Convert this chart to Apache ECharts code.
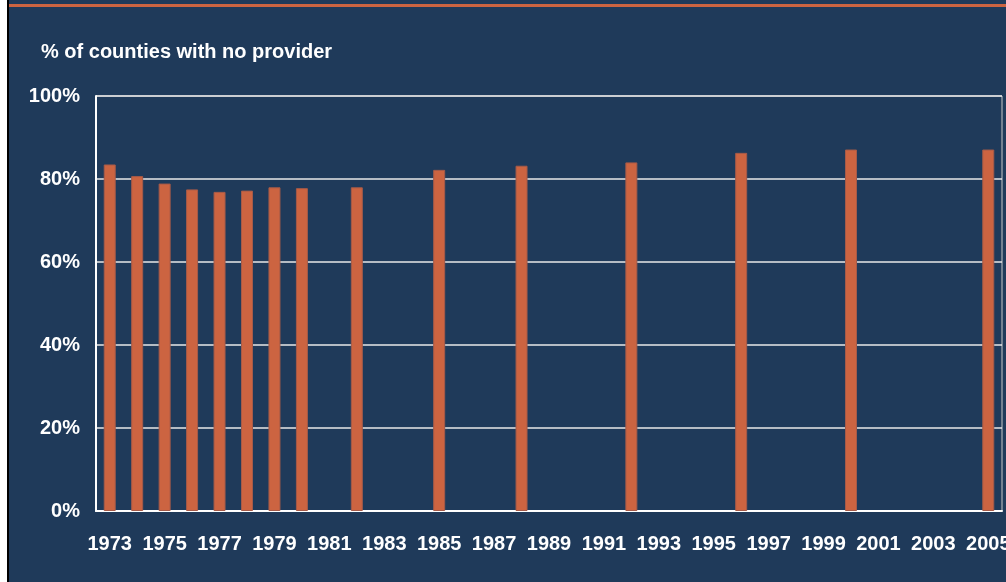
<!DOCTYPE html>
<html>
<head>
<meta charset="utf-8">
<script src="https://cdn.jsdelivr.net/npm/echarts@6/dist/echarts.min.js"></script>
<style>
  html, body { margin: 0; padding: 0; background: #fff; }
  #chart { width: 1006px; height: 582px; }
</style>
</head>
<body>
<div id="chart"></div>
<script>
// years on the x axis, one category per year
const years = ['1973', '1974', '1975', '1976', '1977', '1978', '1979', '1980', '1981', '1982',
  '1983', '1984', '1985', '1986', '1987', '1988', '1989', '1990', '1991', '1992',
  '1993', '1994', '1995', '1996', '1997', '1998', '1999', '2000', '2001', '2002',
  '2003', '2004', '2005'];
// % of counties with no provider (null = no survey that year)
const noProvider = [83.5, 80.7, 78.9, 77.5, 76.9, 77.2, 78.0, 77.8, null, 78.0,
  null, null, 82.2, null, null, 83.2, null, null, null, 84.0,
  null, null, null, 86.3, null, null, null, 87.1, null, null,
  null, null, 87.1];
const yTicks = [0, 20, 40, 60, 80, 100];

const navy = '#1f3a5a';
const orange = '#cc6441';
const font = '"Liberation Sans", Arial, sans-serif';

const chart = echarts.init(document.getElementById('chart'));
chart.setOption({
  backgroundColor: navy,
  animation: false,
  title: {
    text: '% of counties with no provider',
    left: 41,
    top: 42,
    padding: 0,
    textStyle: { color: '#fff', fontSize: 20, fontWeight: 'bold', fontFamily: font }
  },
  graphic: [
    // white page strip and black frame line on the left
    { type: 'rect', left: 0, top: 0, shape: { width: 7, height: 582 }, style: { fill: '#fff' } },
    { type: 'rect', left: 7, top: 0, shape: { width: 2, height: 582 }, style: { fill: '#000' } },
    // orange rule across the top
    { type: 'rect', left: 9, top: 4, shape: { width: 1000, height: 3 }, style: { fill: orange } }
  ],
  grid: {
    left: 96, right: 4, top: 96, bottom: 71,
    outerBoundsMode: 'none',
    containLabel: false,
    show: true, borderColor: '#c8c8c8', borderWidth: 1, backgroundColor: 'transparent'
  },
  xAxis: {
    type: 'category',
    data: years,
    axisLine: { lineStyle: { color: '#fff', width: 2 } },
    axisTick: { show: false },
    axisLabel: {
      interval: 1, color: '#fff', fontSize: 20, fontWeight: 'bold', fontFamily: font, margin: 23,
      hideOverlap: false
    }
  },
  yAxis: {
    type: 'value',
    min: yTicks[0],
    max: yTicks[yTicks.length - 1],
    interval: 20,
    axisLine: { show: true, lineStyle: { color: '#fff', width: 2 } },
    axisTick: { show: false },
    axisLabel: {
      color: '#fff', fontSize: 20, fontWeight: 'bold', fontFamily: font, margin: 16,
      formatter: v => v + '%'
    },
    splitLine: { lineStyle: { color: '#e8e8e8', width: 1.5 } }
  },
  series: [{
    type: 'bar',
    data: noProvider,
    barWidth: 12,
    itemStyle: { color: orange, borderColor: '#a55a48', borderWidth: 1 }
  }]
});
</script>
</body>
</html>
